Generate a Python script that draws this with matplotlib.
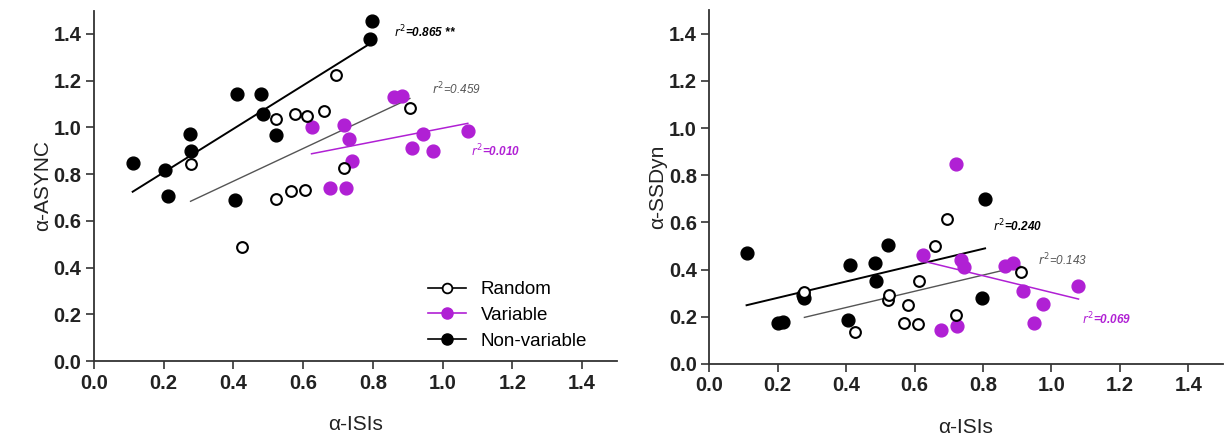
import matplotlib
matplotlib.use('Agg')
import matplotlib.pyplot as plt
import numpy as np
from matplotlib.lines import Line2D

plt.rcParams['font.family'] = ['Liberation Sans', 'DejaVu Sans']

# alpha-ISIs (x) shared by both panels, one array per group
rand_x = [0.693, 0.522, 0.576, 0.612, 0.659, 0.906, 0.277, 0.716, 0.522, 0.566, 0.604, 0.424]
var_x = [0.861, 0.884, 0.624, 0.718, 0.732, 0.741, 0.678, 0.724, 0.944, 1.072, 0.912, 0.973]
nonvar_x = [0.798, 0.792, 0.410, 0.479, 0.485, 0.521, 0.274, 0.279, 0.111, 0.203, 0.211, 0.405]

# left panel: alpha-ASYNC
rand_async = [1.224, 1.037, 1.059, 1.049, 1.070, 1.082, 0.844, 0.827, 0.694, 0.729, 0.732, 0.487]
var_async = [1.131, 1.135, 1.002, 1.009, 0.951, 0.858, 0.741, 0.741, 0.973, 0.984, 0.913, 0.901]
nonvar_async = [1.454, 1.378, 1.145, 1.145, 1.059, 0.966, 0.970, 0.901, 0.848, 0.820, 0.708, 0.691]

# right panel: alpha-SSDyn (x values in the right panel, read separately)
rand_x2 = [0.696, 0.521, 0.581, 0.614, 0.660, 0.910, 0.278, 0.722, 0.524, 0.569, 0.609, 0.425]
rand_ssdyn = [0.616, 0.272, 0.251, 0.352, 0.498, 0.388, 0.304, 0.208, 0.293, 0.173, 0.168, 0.137]
var_x2 = [0.865, 0.887, 0.626, 0.722, 0.736, 0.744, 0.676, 0.725, 0.949, 1.079, 0.917, 0.975]
var_ssdyn = [0.413, 0.428, 0.463, 0.849, 0.442, 0.411, 0.144, 0.161, 0.173, 0.328, 0.310, 0.255]
nonvar_x2 = [0.806, 0.797, 0.411, 0.483, 0.488, 0.521, 0.274, 0.278, 0.109, 0.200, 0.214, 0.406]
nonvar_ssdyn = [0.699, 0.279, 0.418, 0.428, 0.352, 0.503, 0.290, 0.280, 0.470, 0.173, 0.176, 0.187]

r2_left = ['$r^2$=0.865 **', '$r^2$=0.459', '$r^2$=0.010']
r2_right = ['$r^2$=0.240', '$r^2$=0.143', '$r^2$=0.069']

PURPLE = '#b020d4'
GREY = '#555555'

fig = plt.figure(figsize=(12.25, 4.41), dpi=100)
ax1 = fig.add_axes([0.0767, 0.181, 0.427, 0.795])
ax2 = fig.add_axes([0.579, 0.175, 0.419, 0.802])


def fit_line(ax, x, y, color, lw):
    x = np.asarray(x)
    k, b = np.polyfit(x, y, 1)
    xs = np.array([x.min(), x.max()])
    ax.plot(xs, k * xs + b, color=color, lw=lw, zorder=2)


def draw_panel(ax, rx, ry, vx, vy, nx, ny, ylabel, labels, label_pos):
    fit_line(ax, nx, ny, 'black', 1.4)
    fit_line(ax, rx, ry, GREY, 1.0)
    fit_line(ax, vx, vy, PURPLE, 1.1)
    ax.scatter(nx, ny, s=85, color='black', zorder=3)
    ax.scatter(vx, vy, s=85, color=PURPLE, zorder=3)
    ax.scatter(rx, ry, s=60, facecolor='white', edgecolor='black', linewidths=1.5, zorder=4)

    colors = ['black', GREY, PURPLE]
    weights = ['bold', 'normal', 'bold']
    for txt, (px, py), c, w in zip(labels, label_pos, colors, weights):
        ax.text(px, py, txt, color=c, fontsize=8.5, style='italic', weight=w,
                ha='left', va='center')

    ax.set_xlim(0, 1.5)
    ax.set_ylim(0, 1.5)
    ax.set_xticks(np.arange(0, 1.41, 0.2))
    ax.set_yticks(np.arange(0, 1.41, 0.2))
    ax.xaxis.set_major_formatter(matplotlib.ticker.FormatStrFormatter('%.1f'))
    ax.yaxis.set_major_formatter(matplotlib.ticker.FormatStrFormatter('%.1f'))
    for s in ['top', 'right']:
        ax.spines[s].set_visible(False)
    for s in ['left', 'bottom']:
        ax.spines[s].set_color('#333333')
        ax.spines[s].set_linewidth(1.3)
    ax.tick_params(direction='out', length=6, width=1.2, color='#333333',
                   labelsize=14.5, pad=3)
    for lab in ax.get_xticklabels() + ax.get_yticklabels():
        lab.set_fontweight('bold')
        lab.set_color('#222222')
    ax.set_xlabel('α-ISIs', fontsize=15, color='#222222', labelpad=16)
    ax.set_ylabel(ylabel, fontsize=15, color='#222222', labelpad=1)


draw_panel(ax1, rand_x, rand_async, var_x, var_async, nonvar_x, nonvar_async,
           'α-ASYNC', r2_left, [(0.86, 1.41), (0.97, 1.165), (1.08, 0.90)])
draw_panel(ax2, rand_x2, rand_ssdyn, var_x2, var_ssdyn, nonvar_x2, nonvar_ssdyn,
           'α-SSDyn', r2_right, [(0.83, 0.585), (0.96, 0.44), (1.09, 0.19)])

handles = [
    Line2D([0], [0], color='black', lw=1.2, marker='o', markersize=7,
           markerfacecolor='white', markeredgecolor='black', markeredgewidth=1.3),
    Line2D([0], [0], color=PURPLE, lw=1.2, marker='o', markersize=8,
           markerfacecolor=PURPLE, markeredgecolor=PURPLE),
    Line2D([0], [0], color='black', lw=1.2, marker='o', markersize=8,
           markerfacecolor='black', markeredgecolor='black'),
]
ax1.legend(handles, ['Random', 'Variable', 'Non-variable'], loc='lower right',
           bbox_to_anchor=(0.975, -0.015), frameon=False, fontsize=13.5,
           handlelength=2.0, handletextpad=0.8, labelspacing=0.45)

plt.savefig('out.png', dpi=100)
